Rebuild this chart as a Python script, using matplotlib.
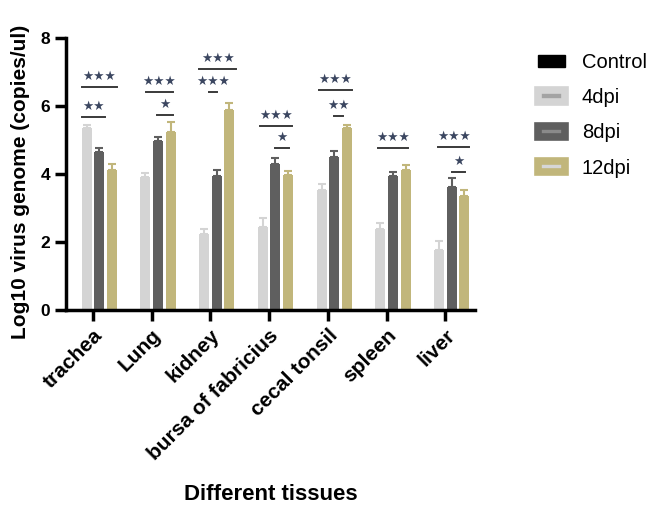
import numpy as np
import matplotlib.pyplot as plt
from matplotlib.patches import Patch

plt.rcParams['font.family'] = ['Liberation Sans', 'DejaVu Sans']

tissues = ['trachea', 'Lung', 'kidney', 'bursa of fabricius', 'cecal tonsil', 'spleen', 'liver']
groups = ['Control', '4dpi', '8dpi', '12dpi']
control = [0, 0, 0, 0, 0, 0, 0]
dpi4 = [5.35, 3.91, 2.24, 2.44, 3.53, 2.38, 1.76]
dpi8 = [4.65, 4.97, 3.94, 4.29, 4.50, 3.94, 3.62]
dpi12 = [4.12, 5.24, 5.88, 3.97, 5.35, 4.12, 3.35]
err4 = [0.09, 0.12, 0.14, 0.27, 0.18, 0.18, 0.27]
err8 = [0.11, 0.12, 0.18, 0.18, 0.18, 0.12, 0.26]
err12 = [0.17, 0.29, 0.21, 0.12, 0.09, 0.14, 0.18]

# significance marks: (tissue index, x from, x to (offset from tick), y, stars)
sig = [
    (0, -0.19, 0.41, 6.56, 3), (0, -0.19, 0.20, 5.68, 2),
    (1, -0.10, 0.36, 6.41, 3), (1, 0.10, 0.36, 5.74, 1),
    (2, -0.19, 0.44, 7.09, 3), (2, -0.03, 0.12, 6.41, 3),
    (3, -0.15, 0.39, 5.41, 3), (3, 0.10, 0.34, 4.76, 1),
    (4, -0.15, 0.41, 6.47, 3), (4, 0.10, 0.26, 5.71, 2),
    (5, -0.14, 0.36, 4.76, 3),
    (6, -0.12, 0.41, 4.79, 3), (6, 0.12, 0.34, 4.06, 1),
]

colors = ['#000000', '#d4d4d4', '#5f5f5f', '#c1b67b']
inner = ['#000000', '#a3a3a3', '#8a8a8a', '#d6d6d6']

fig = plt.figure(figsize=(6.52, 5.08), dpi=100)
ax = fig.add_axes([0.101, 0.39, 0.628, 0.535])

x = np.arange(len(tissues))
step = 0.216
w = 0.17
series = [(control, None), (dpi4, err4), (dpi8, err8), (dpi12, err12)]
for i, (vals, err) in enumerate(series):
    pos = x + (i - 1.5) * step
    ax.bar(pos, vals, width=w, color=colors[i], zorder=2)
    if err is not None:
        ax.errorbar(pos, vals, yerr=[np.zeros(len(vals)), err], fmt='none',
                    ecolor=colors[i], elinewidth=1.5, capsize=3, capthick=1.5, zorder=1)

for ti, x0, x1, y, n in sig:
    ax.plot([ti + x0, ti + x1], [y, y], color='#3a3a3a', lw=1.4)
    ax.annotate('\u2605' * n, (ti + (x0 + x1) / 2, y), xytext=(0, 3), textcoords='offset points',
                ha='center', va='bottom', fontsize=9, color='#3b4660', family='DejaVu Sans')

ax.set_xlim(-0.46, 6.51)
ax.set_ylim(0, 8)
ax.set_yticks([0, 2, 4, 6, 8])
ax.set_xticks(x)
ax.set_xticklabels(tissues, rotation=45, ha='right', rotation_mode='anchor',
                   fontsize=15, fontweight='bold')
for t in ax.get_yticklabels():
    t.set_fontweight('bold')
    t.set_fontsize(12.5)
ax.tick_params(axis='both', width=2.5, length=8, color='black')
ax.spines['top'].set_visible(False)
ax.spines['right'].set_visible(False)
ax.spines['left'].set_linewidth(2.5)
ax.spines['bottom'].set_linewidth(2.5)
ax.set_ylabel('Log10 virus genome (copies/ul)', fontsize=15, fontweight='bold')
ax.yaxis.set_label_coords(-0.088, 0.47)
ax.set_xlabel('Different tissues', fontsize=16, fontweight='bold')
ax.xaxis.set_label_coords(0.5, -0.64)

handles = []
for i in range(4):
    if i == 0:
        handles.append(Patch(facecolor=colors[i], edgecolor=colors[i]))
    else:
        handles.append(Patch(facecolor=inner[i], edgecolor=colors[i], linewidth=5.5))
fig.legend(handles, groups, loc='upper left', bbox_to_anchor=(0.798, 0.931), frameon=False,
           fontsize=14.5, labelspacing=0.8, handlelength=1.3, handleheight=0.5,
           handletextpad=0.85)

fig.savefig('out.png', dpi=100)
